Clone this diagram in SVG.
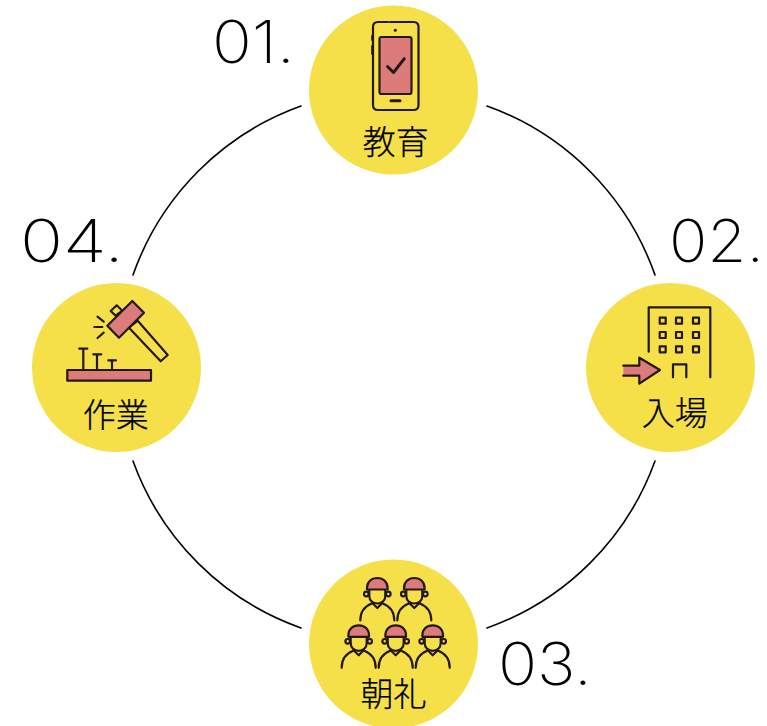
<svg xmlns="http://www.w3.org/2000/svg" xmlns:xlink="http://www.w3.org/1999/xlink" width="767" height="726" viewBox="0 0 767 726">
<style>
.bg{fill:#f5e04a}
.ln{fill:none;stroke:#231815;stroke-width:2.2;stroke-linecap:round;stroke-linejoin:round}
.pk{fill:#dd7b7b;stroke:#231815;stroke-width:2.2;stroke-linejoin:round}
.ck{fill:none;stroke:#231815;stroke-width:3;stroke-linecap:round;stroke-linejoin:round}
.arc{fill:none;stroke:#000;stroke-width:1.6;stroke-linecap:round}
.num{font-family:"Inter","Liberation Sans",sans-serif;font-weight:250;font-size:59px;fill:#000}
.lab{font-family:"Noto Sans CJK JP",sans-serif;font-weight:300;font-size:33px;fill:#000;stroke:#000;stroke-width:.25;text-anchor:middle}
</style>
<defs>
<g id="worker">
<path class="ln" d="M-17 42.500C-17 33 -12 28 -5.500 25.500"/>
<path class="ln" d="M5.500 25.500C12 28 17 33 17 42.500"/>
<path class="ln" d="M-5 25L0 30L5 25"/>
<circle class="ln" cx="-11" cy="16" r="2.300"/>
<circle class="ln" cx="11" cy="16" r="2.300"/>
<path class="ln" d="M-8 12V18C-8 23 -4 25.500 0 25.500C4 25.500 8 23 8 18V12"/>
<path class="pk" d="M-10.300 11.500V10C-10.300 4 -6 0 0 0C6 0 10.300 4 10.300 10V11.500Z"/>
</g>
</defs>
<g id="connectors">
<path class="arc" d="M301 106A277 277 0 0 0 133 275"/>
<path class="arc" d="M487 106A277 277 0 0 1 655 275"/>
<path class="arc" d="M655 461A277 277 0 0 1 487 628"/>
<path class="arc" d="M133 461A277 277 0 0 0 301 628"/>
</g>
<g id="node-01">
<circle class="bg" cx="393.500" cy="90" r="84.500"/>
<path class="ln" d="M388 22H378Q373 22 373 27V105Q373 110 378 110H413.500Q418.500 110 418.500 105V27Q418.500 22 413.500 22H390"/>
<path class="ln" d="M372.300 36V40M372.300 46V54"/>
<rect class="pk" x="379.500" y="37" width="32" height="57" rx="2"/>
<path class="ck" d="M387.500 66.500L393.500 72.500L404.300 58.700"/>
<path class="ck" d="M391 100.800H400"/>
<circle cx="395.300" cy="30.300" r="1.500" fill="#231815"/>
<text class="lab" x="395.800" y="153.500">教育</text>
<text class="num" x="212" y="63" textLength="83" lengthAdjust="spacingAndGlyphs">01.</text>
</g>
<g id="node-02">
<circle class="bg" cx="670.500" cy="367.500" r="84.500"/>
<path class="ln" d="M648.700 351.700V307.300H710.300V377.300"/>
<g class="ln">
<rect x="659.700" y="317.700" width="6" height="6"/><rect x="676" y="317.700" width="6" height="6"/><rect x="693" y="317.700" width="6" height="6"/>
<rect x="659.700" y="332" width="6" height="6"/><rect x="676" y="332" width="6" height="6"/><rect x="693" y="332" width="6" height="6"/>
<rect x="659.700" y="346.300" width="6" height="6"/><rect x="676" y="346.300" width="6" height="6"/><rect x="693" y="346.300" width="6" height="6"/>
</g>
<path class="ln" d="M673 377.300V364.300H686.300V377.300"/>
<path d="M623.300 365.700H639.300V357.700L660 370L639.300 383.700V375.700H623.300Z" fill="#dd7b7b"/>
<path class="ln" d="M623.300 365.700H639.300V357.700L660 370L639.300 383.700V375.700H623.300"/>
<text class="lab" x="674.700" y="425">入場</text>
<text class="num" x="669" y="262" textLength="95" lengthAdjust="spacingAndGlyphs">02.</text>
</g>
<g id="node-03">
<circle class="bg" cx="393.500" cy="644" r="84.500"/>
<use xlink:href="#worker" href="#worker" x="377.300" y="578"/>
<use xlink:href="#worker" href="#worker" x="414.300" y="578"/>
<use xlink:href="#worker" href="#worker" x="358.700" y="625.300"/>
<use xlink:href="#worker" href="#worker" x="395.700" y="625.300"/>
<use xlink:href="#worker" href="#worker" x="432.700" y="625.300"/>
<text class="lab" x="393.500" y="706">朝礼</text>
<text class="num" x="498" y="685" textLength="94" lengthAdjust="spacingAndGlyphs">03.</text>
</g>
<g id="node-04">
<circle class="bg" cx="116.500" cy="367.500" r="84.500"/>
<path class="ln" d="M110.700 311L116.700 305.300L122.300 310.700L115.700 315.700Z"/>
<path class="ln" d="M129 327.700L137.700 320.700L167.700 355L160.700 361.300Z"/>
<path class="pk" d="M132.300 301L144 312.700L119 337.700L107.300 325.700Z"/>
<path class="ln" d="M97.500 316.700L103.700 321.700M94.300 327H102.300M97.500 338L103.700 332.700"/>
<path class="ln" d="M83.300 370V349M79.300 348.700H87.300M97 369.300V354.300M93.300 354.300H101.300M112 369.300V360.300M108.300 360.300H116"/>
<rect class="pk" x="67.300" y="370" width="83.700" height="10.700"/>
<text class="lab" x="115.800" y="427">作業</text>
<text class="num" x="20" y="262" textLength="104" lengthAdjust="spacingAndGlyphs">04.</text>
</g>
</svg>
